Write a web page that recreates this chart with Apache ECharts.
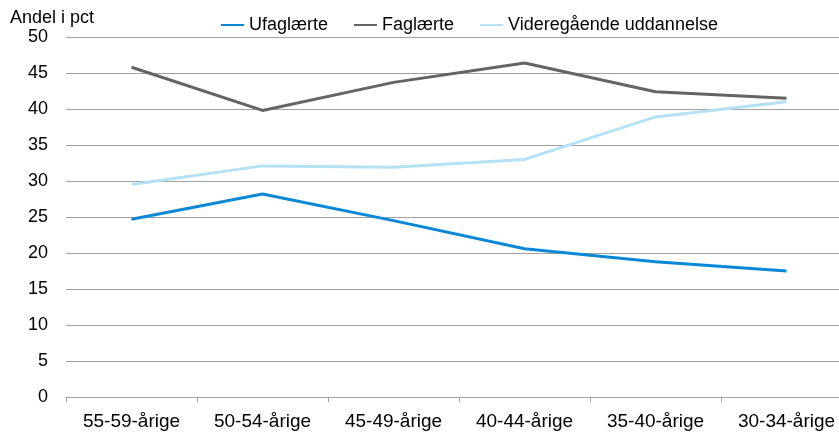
<!DOCTYPE html>
<html>
<head>
<meta charset="utf-8">
<script src="https://cdn.jsdelivr.net/npm/echarts@6/dist/echarts.min.js"></script>
<style>
  html, body { margin: 0; padding: 0; background: #fff; }
  #chart { width: 839px; height: 435px; }
</style>
</head>
<body>
<div id="chart"></div>
<script>
var categories = ['55-59-årige', '50-54-årige', '45-49-årige', '40-44-årige', '35-40-årige', '30-34-årige'];
var ufaglaerte = [24.7, 28.2, 24.5, 20.6, 18.8, 17.5];
var faglaerte = [45.8, 39.8, 43.7, 46.4, 42.4, 41.5];
var videregaaende = [29.5, 32.1, 31.9, 33.0, 38.9, 41.0];

var myChart = echarts.init(document.getElementById('chart'));

var font = 'Liberation Sans, Arial, sans-serif';

option = {
    animation: false,
    textStyle: { fontFamily: font },
    legend: {
        top: 11,
        left: 216,
        itemWidth: 23,
        itemHeight: 2,
        itemGap: 26,
        icon: 'rect',
        textStyle: { fontSize: 18, color: '#000', fontFamily: font },
        data: ['Ufaglærte', 'Faglærte', 'Videregående uddannelse']
    },
    grid: {
        left: 66,
        right: -13,
        top: 37,
        bottom: 38,
        outerBoundsMode: 'none'
    },
    xAxis: {
        type: 'category',
        data: categories,
        boundaryGap: true,
        axisLine: { lineStyle: { color: '#a0a0a0', width: 1 } },
        axisTick: { show: true, length: 5, lineStyle: { color: '#a0a0a0' } },
        axisLabel: { fontSize: 19, color: '#000', margin: 15, fontFamily: font }
    },
    yAxis: {
        type: 'value',
        min: 0,
        max: 50,
        interval: 5,
        name: 'Andel i pct',
        nameLocation: 'end',
        nameGap: 10,
        nameTextStyle: { fontSize: 18, color: '#000', align: 'left', padding: [0, 0, 0, -56], fontFamily: font },
        axisLine: { show: false },
        axisTick: { show: false },
        axisLabel: { fontSize: 18, color: '#000', margin: 18, fontFamily: font },
        splitLine: { lineStyle: { color: '#a0a0a0', width: 1 } }
    },
    series: [
        {
            name: 'Ufaglærte',
            type: 'line',
            data: ufaglaerte,
            showSymbol: false,
            symbol: 'none',
            color: '#0a88d6',
            lineStyle: { width: 3, color: '#0a88d6' }
        },
        {
            name: 'Faglærte',
            type: 'line',
            data: faglaerte,
            showSymbol: false,
            symbol: 'none',
            color: '#646464',
            lineStyle: { width: 3, color: '#646464' }
        },
        {
            name: 'Videregående uddannelse',
            type: 'line',
            data: videregaaende,
            showSymbol: false,
            symbol: 'none',
            color: '#b4e2f4',
            lineStyle: { width: 3, color: '#b4e2f4' }
        }
    ]
};
myChart.setOption(option);
</script>
</body>
</html>
